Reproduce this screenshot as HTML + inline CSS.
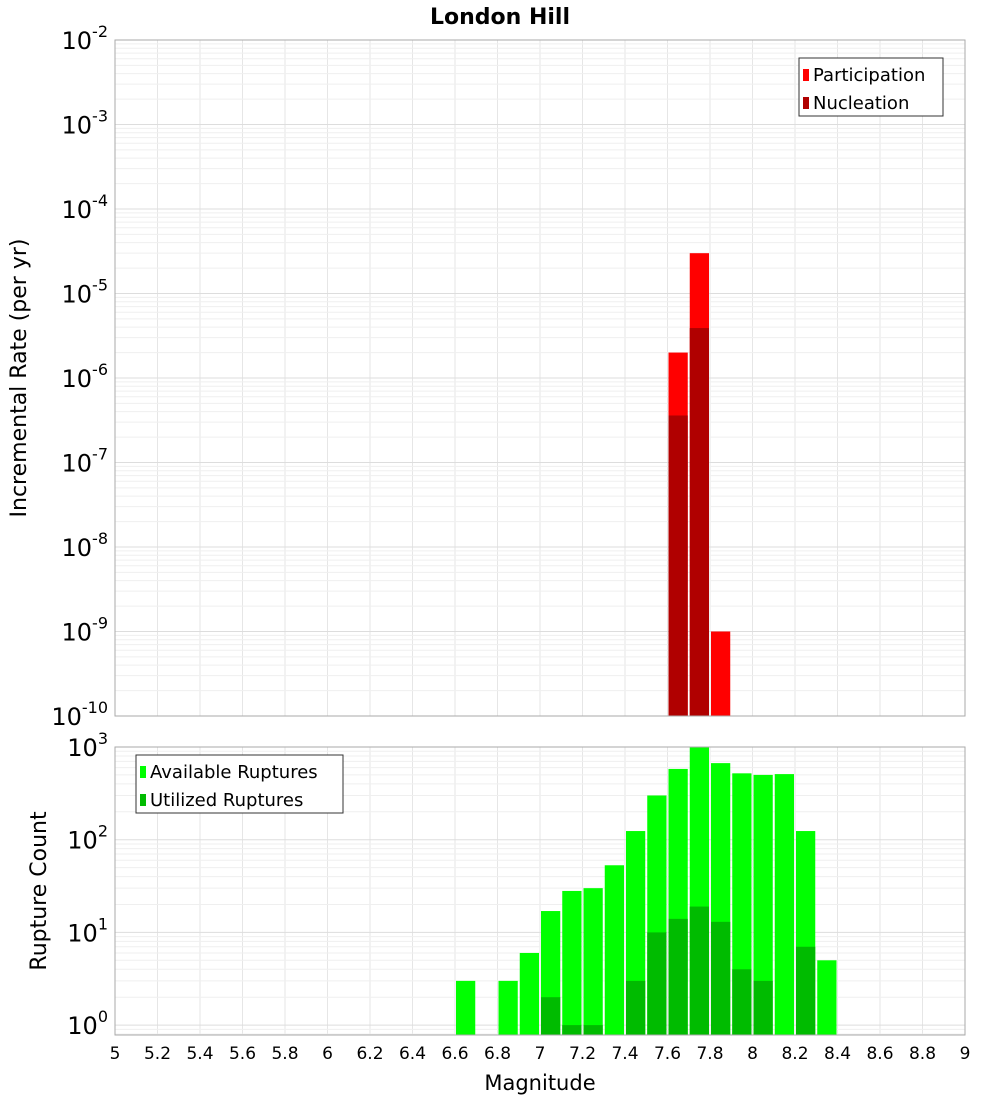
<!DOCTYPE html>
<html><head><meta charset="utf-8"><style>
body{margin:0;background:#fff;}
svg text{font-family:"DejaVu Sans","Liberation Sans",sans-serif;}
</style></head><body>
<svg id="c" width="1000" height="1100" xmlns="http://www.w3.org/2000/svg">
<text x="500" y="24" text-anchor="middle" font-size="22" font-weight="bold">London Hill</text>
<g id="topPanel"></g>
<g id="botPanel"></g>
<text transform="translate(26,378) rotate(-90)" text-anchor="middle" font-size="22">Incremental Rate (per yr)</text>
<text transform="translate(46,891) rotate(-90)" text-anchor="middle" font-size="22">Rupture Count</text>
<text x="540" y="1090" text-anchor="middle" font-size="21">Magnitude</text>
</svg>
<script>
const NS="http://www.w3.org/2000/svg";
const binCenters=[6.65,6.75,6.85,6.95,7.05,7.15,7.25,7.35,7.45,7.55,7.65,7.75,7.85,7.95,8.05,8.15,8.25,8.35];
const available=[3,0,3,6,17,28,30,53,124,300,580,1000,670,520,500,510,124,5];
const utilized=[0,0,0,0,2,1,1,0,3,10,14,19,13,4,3,0,7,0];
const rateMags=[7.65,7.75,7.85];
const participation=[2e-6,3e-5,1e-9];
const nucleation=[3.6e-7,3.9e-6,0];
const xTicks=["5","5.2","5.4","5.6","5.8","6","6.2","6.4","6.6","6.8","7","7.2","7.4","7.6","7.8","8","8.2","8.4","8.6","8.8","9"];
const topExps=[-10,-9,-8,-7,-6,-5,-4,-3,-2];
const botExps=[0,1,2,3];

const X0=115,X1=965;
const xs=m=>X0+(m-5)/4*(X1-X0);
const T0=40,T1=716, ys1=v=>T0+(-2-Math.log10(v))*(T1-T0)/8;
const B0=747,B1=1035, DEC=92.7, ys2=v=>B0+(3-Math.log10(v))*DEC;

function mk(p,tag,a){const e=document.createElementNS(NS,tag);for(const k in a)e.setAttribute(k,a[k]);p.appendChild(e);return e;}
const gTop=document.getElementById('topPanel'),gBot=document.getElementById('botPanel');

function grid(g,y0,y1,yf,exps){
  for(let i=0;i<=40;i+=2){const x=xs(5+i*0.1);
    const l=mk(g,'line',{x1:x,x2:x,y1:y0,y2:y1,stroke:'#e6e6e6'});
    
    }
  for(let e=exps[0]-1;e<=exps[exps.length-1];e++)for(let k=1;k<10;k++){
    const y=yf(k*Math.pow(10,e));if(y<y0||y>y1)continue;
    const l=mk(g,'line',{x1:X0,x2:X1,y1:y,y2:y,stroke:k==1?'#dddddd':'#efefef'});
    
    }
}
grid(gTop,T0,T1,ys1,topExps);
grid(gBot,B0,B1,ys2,botExps);

function bar(g,m,v,fill,name,yf,ybot){
  if(!v)return;const x=xs(m-0.05)+1,w=xs(m+0.05)-xs(m-0.05)-2,y=Math.max(yf(v),0);
  const r=mk(g,'rect',{x:x,y:y,width:w,height:ybot-y,fill:fill});
  
  
}
rateMags.forEach((m,i)=>{bar(gTop,m,participation[i],'#ff0000','participation-bar',ys1,T1);});
rateMags.forEach((m,i)=>{bar(gTop,m,nucleation[i],'#b00000','nucleation-bar',ys1,T1);});
binCenters.forEach((m,i)=>{bar(gBot,m,available[i],'#00ff00','available-bar',ys2,B1);});
binCenters.forEach((m,i)=>{bar(gBot,m,utilized[i],'#00bb00','utilized-bar',ys2,B1);});

mk(gTop,'rect',{x:X0,y:T0,width:X1-X0,height:T1-T0,fill:'none',stroke:'#aaaaaa'});
mk(gBot,'rect',{x:X0,y:B0,width:X1-X0,height:B1-B0,fill:'none',stroke:'#aaaaaa'});

function ylab(g,e,y){
  const t=mk(g,'text',{x:108,y:y+9,'text-anchor':'end','font-size':24});
  t.textContent='10';
  const s=mk(t,'tspan',{dy:-12,'font-size':16});s.textContent=String(e);
  
  
}
topExps.forEach(e=>ylab(gTop,e,ys1(Math.pow(10,e))));
botExps.forEach(e=>ylab(gBot,e,ys2(Math.pow(10,e))));
xTicks.forEach(s=>{const t=mk(gBot,'text',{x:xs(parseFloat(s)),y:1059,'text-anchor':'middle','font-size':17});t.textContent=s;
  
  });

function legend(g,x,y,w,items){
  const r=mk(g,'rect',{x:x,y:y,width:w,height:58,fill:'#fff',stroke:'#333'});
  
  
  items.forEach((it,i)=>{
    mk(g,'rect',{x:x+4,y:y+11+i*28,width:6,height:12,fill:it[1]});
    const t=mk(g,'text',{x:x+14,y:y+23+i*28,'font-size':18});t.textContent=it[0];
    
    
  });
}
legend(gTop,799,58,144,[['Participation','#ff0000'],['Nucleation','#b00000']]);
legend(gBot,136,755,207,[['Available Ruptures','#00ff00'],['Utilized Ruptures','#00bb00']]);
</script>
</body></html>
